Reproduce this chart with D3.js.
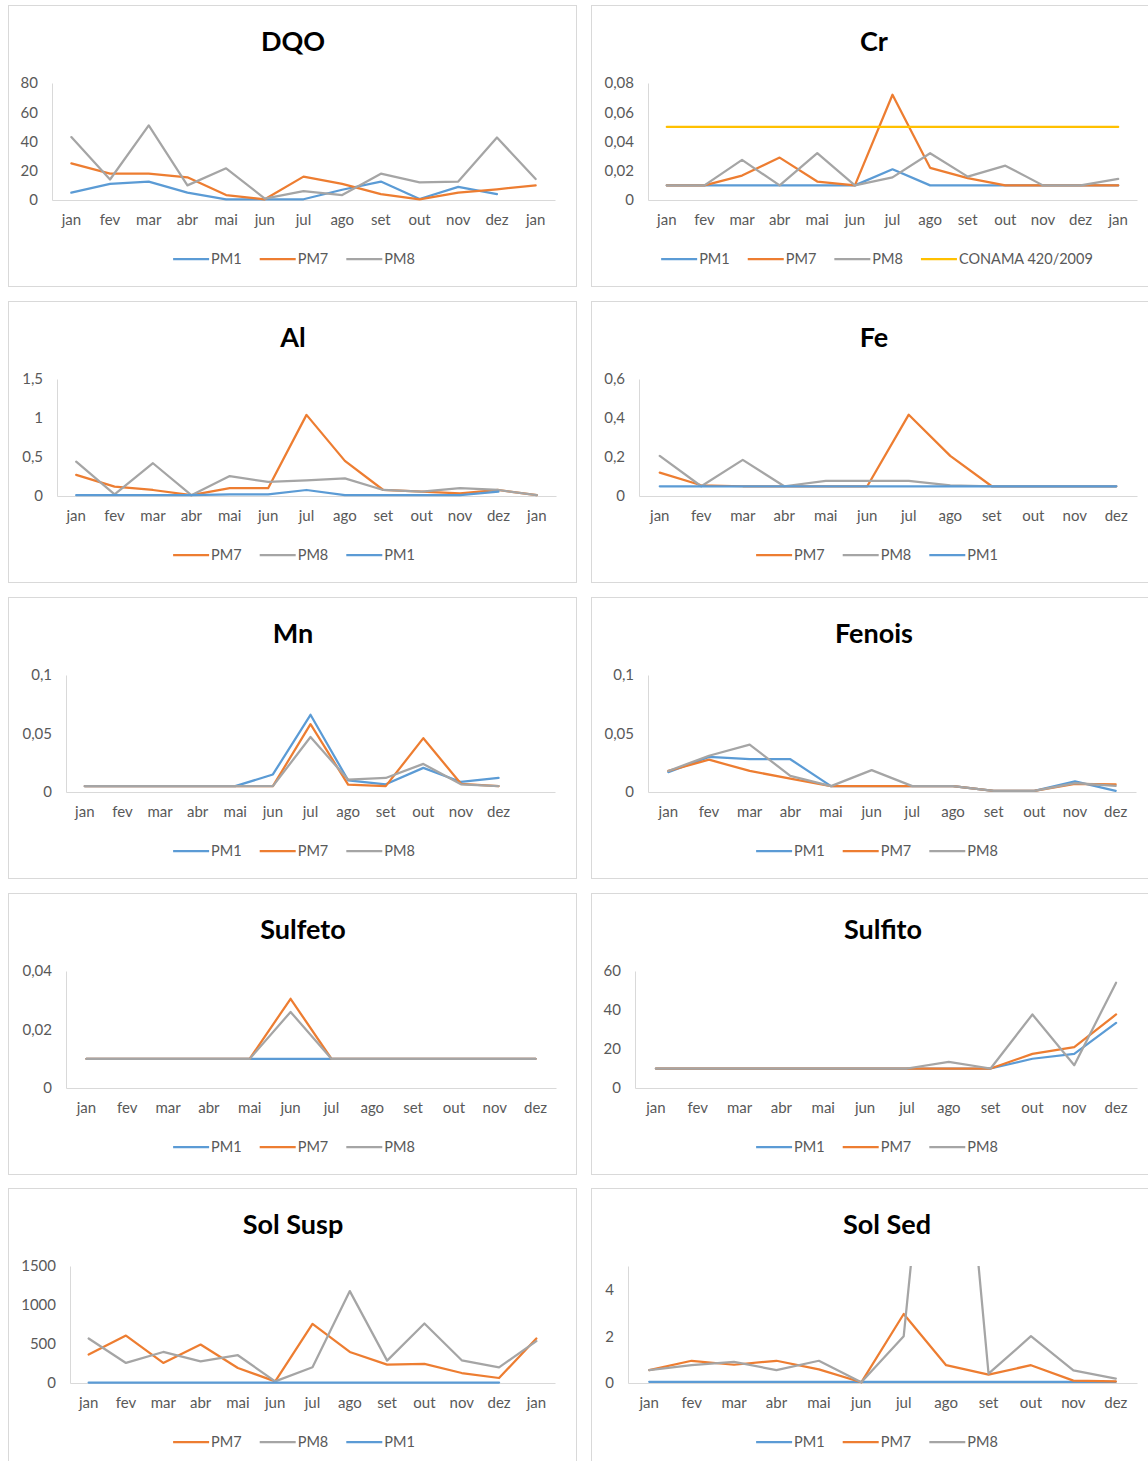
<!DOCTYPE html>
<html lang="pt">
<head>
<meta charset="UTF-8">
<title>Monitoramento PM1 / PM7 / PM8</title>
<script src="https://d3js.org/d3.v7.min.js"></script>
<style>
  body { margin: 0; background: #fff; }
  svg { display: block; font-family: Lato, "Open Sans", sans-serif; }
  .tick text { fill: #595959; font-size: 15px; }
  .title { font-size: 27px; font-weight: bold; fill: #000; }
  .leg { font-size: 14.5px; fill: #595959; }
</style>
</head>
<body>
<svg id="chart" width="1148" height="1461"></svg>
<script>
// month labels
var months13 = ["jan","fev","mar","abr","mai","jun","jul","ago","set","out","nov","dez","jan"];
var months12 = ["jan","fev","mar","abr","mai","jun","jul","ago","set","out","nov","dez"];
var monthsMn = ["jan","fev","mar","abr","mai","jun","jul","ago","set","out","nov","dez",""];

// DQO
var dqoPM1 = [5, 11, 12.6, 5, 0.5, 0.5, 0.5, 7, 12.6, 0.7, 9, 4, null];
var dqoPM7 = [25, 18, 18, 15.5, 3.4, 0.5, 16, 11, 4, 0.5, 5, 7.3, 10];
var dqoPM8 = [43, 14, 51, 10, 21.7, 1, 6, 3.4, 18, 12, 12.6, 42.7, 14.4];
var dqoTicks = [0, 20, 40, 60, 80];

// Cr
var crPM1 = [0.01, 0.01, 0.01, 0.01, 0.01, 0.01, 0.021, 0.01, 0.01, 0.01, 0.01, 0.01, 0.01];
var crPM7 = [0.01, 0.01, 0.0167, 0.029, 0.0126, 0.01, 0.072, 0.022, 0.015, 0.01, 0.01, 0.01, 0.01];
var crPM8 = [0.01, 0.01, 0.0274, 0.01, 0.032, 0.01, 0.0155, 0.032, 0.016, 0.0235, 0.01, 0.01, 0.0144];
var crConama = [0.05, 0.05, 0.05, 0.05, 0.05, 0.05, 0.05, 0.05, 0.05, 0.05, 0.05, 0.05, 0.05];
var crTicks = [0, 0.02, 0.04, 0.06, 0.08];

// Al
var alPM7 = [0.27, 0.12, 0.077, 0.01, 0.1, 0.1, 1.04, 0.45, 0.077, 0.055, 0.035, 0.077, 0.01];
var alPM8 = [0.44, 0.02, 0.42, 0.01, 0.255, 0.18, 0.2, 0.225, 0.077, 0.055, 0.1, 0.077, 0.01];
var alPM1 = [0.01, 0.01, 0.01, 0.01, 0.02, 0.02, 0.077, 0.01, 0.01, 0.01, 0.01, 0.055, null];
var alTicks = [0, 0.5, 1, 1.5];

// Fe
var fePM7 = [0.12, 0.055, 0.05, 0.05, 0.05, 0.05, 0.417, 0.206, 0.05, 0.05, 0.05, 0.05];
var fePM8 = [0.206, 0.05, 0.185, 0.05, 0.077, 0.077, 0.077, 0.055, 0.05, 0.05, 0.05, 0.05];
var fePM1 = [0.05, 0.05, 0.05, 0.05, 0.05, 0.05, 0.05, 0.05, 0.05, 0.05, 0.05, 0.05];
var feTicks = [0, 0.2, 0.4, 0.6];

// Mn
var mnPM1 = [0.005, 0.005, 0.005, 0.005, 0.005, 0.015, 0.066, 0.01, 0.0066, 0.0206, 0.0086, 0.012];
var mnPM7 = [0.005, 0.005, 0.005, 0.005, 0.005, 0.005, 0.058, 0.0063, 0.005, 0.046, 0.007, 0.005];
var mnPM8 = [0.005, 0.005, 0.005, 0.005, 0.005, 0.005, 0.047, 0.0106, 0.012, 0.024, 0.0066, 0.005];
var mnTicks = [0, 0.05, 0.1];

// Fenois
var fenPM1 = [0.017, 0.03, 0.028, 0.028, 0.005, 0.005, 0.005, 0.005, 0.001, 0.001, 0.009, 0.001];
var fenPM7 = [0.018, 0.0276, 0.018, 0.0115, 0.005, 0.005, 0.005, 0.005, 0.001, 0.001, 0.007, 0.0066];
var fenPM8 = [0.018, 0.031, 0.0405, 0.0138, 0.005, 0.0187, 0.005, 0.005, 0.001, 0.001, 0.0075, 0.0052];
var fenTicks = [0, 0.05, 0.1];

// Sulfeto
var sfePM1 = [0.01, 0.01, 0.01, 0.01, 0.01, 0.01, 0.01, 0.01, 0.01, 0.01, 0.01, 0.01];
var sfePM7 = [0.01, 0.01, 0.01, 0.01, 0.01, 0.0305, 0.01, 0.01, 0.01, 0.01, 0.01, 0.01];
var sfePM8 = [0.01, 0.01, 0.01, 0.01, 0.01, 0.026, 0.01, 0.01, 0.01, 0.01, 0.01, 0.01];
var sfeTicks = [0, 0.02, 0.04];

// Sulfito
var sfiPM1 = [10, 10, 10, 10, 10, 10, 10, 10, 10, 15, 17.5, 33.4];
var sfiPM7 = [10, 10, 10, 10, 10, 10, 10, 10, 10, 17.5, 21, 37.7];
var sfiPM8 = [10, 10, 10, 10, 10, 10, 10, 13.4, 10, 37.7, 11.7, 54];
var sfiTicks = [0, 20, 40, 60];

// Sol Susp
var ssPM7 = [364, 608, 257, 493, 193, 21, 758, 398, 236, 244, 128, 64, 570];
var ssPM8 = [570, 257, 398, 278, 356, 21, 201, 1178, 287, 763, 291, 201, 536];
var ssPM1 = [5, 5, 5, 5, 5, 5, 5, 5, 5, 5, 5, 5, null];
var ssTicks = [0, 500, 1000, 1500];

// Sol Sed (PM8 in ago goes off the top of the axis)
var sdPM1 = [0.05, 0.05, 0.05, 0.05, 0.05, 0.05, 0.05, 0.05, 0.05, 0.05, 0.05, 0.05];
var sdPM7 = [0.55, 0.95, 0.78, 0.95, 0.58, 0.03, 2.95, 0.76, 0.36, 0.76, 0.1, 0.07];
var sdPM8 = [0.55, 0.76, 0.9, 0.55, 0.95, 0.03, 2, 20, 0.4, 2, 0.54, 0.19];
var sdTicks = [0, 2, 4];

var BLUE = "#5B9BD5", ORANGE = "#ED7D31", GRAY = "#A5A5A5", YELLOW = "#FFC000";

var svg = d3.select("#chart");
var rowTops = [5, 301, 597, 893, 1188];

function fmt(v) { return String(v).replace(".", ","); }

function s(name, values, color) { return { name: name, values: values, color: color }; }

var panels = [
  { title: "DQO", col: 0, row: 0, tx: 293, x0: 52, x1: 555, labels: months13, max: 80, ticks: dqoTicks,
    series: [s("PM1", dqoPM1, BLUE), s("PM7", dqoPM7, ORANGE), s("PM8", dqoPM8, GRAY)] },
  { title: "Cr", col: 1, row: 0, tx: 874, x0: 648, x1: 1137, labels: months13, max: 0.08, ticks: crTicks,
    series: [s("PM1", crPM1, BLUE), s("PM7", crPM7, ORANGE), s("PM8", crPM8, GRAY), s("CONAMA 420/2009", crConama, YELLOW)] },
  { title: "Al", col: 0, row: 1, tx: 293, x0: 57, x1: 556, labels: months13, max: 1.5, ticks: alTicks,
    series: [s("PM7", alPM7, ORANGE), s("PM8", alPM8, GRAY), s("PM1", alPM1, BLUE)] },
  { title: "Fe", col: 1, row: 1, tx: 874, x0: 639, x1: 1137, labels: months12, max: 0.6, ticks: feTicks,
    series: [s("PM7", fePM7, ORANGE), s("PM8", fePM8, GRAY), s("PM1", fePM1, BLUE)] },
  { title: "Mn", col: 0, row: 2, tx: 293, x0: 66, x1: 555, labels: monthsMn, max: 0.1, ticks: mnTicks,
    series: [s("PM1", mnPM1, BLUE), s("PM7", mnPM7, ORANGE), s("PM8", mnPM8, GRAY)] },
  { title: "Fenois", col: 1, row: 2, tx: 874, x0: 648, x1: 1136, labels: months12, max: 0.1, ticks: fenTicks,
    series: [s("PM1", fenPM1, BLUE), s("PM7", fenPM7, ORANGE), s("PM8", fenPM8, GRAY)] },
  { title: "Sulfeto", col: 0, row: 3, tx: 303, x0: 66, x1: 556, labels: months12, max: 0.04, ticks: sfeTicks,
    series: [s("PM1", sfePM1, BLUE), s("PM7", sfePM7, ORANGE), s("PM8", sfePM8, GRAY)] },
  { title: "Sulfito", col: 1, row: 3, tx: 883, x0: 635, x1: 1137, labels: months12, max: 60, ticks: sfiTicks,
    series: [s("PM1", sfiPM1, BLUE), s("PM7", sfiPM7, ORANGE), s("PM8", sfiPM8, GRAY)] },
  { title: "Sol Susp", col: 0, row: 4, tx: 293, x0: 70, x1: 555, labels: months13, max: 1500, ticks: ssTicks,
    series: [s("PM7", ssPM7, ORANGE), s("PM8", ssPM8, GRAY), s("PM1", ssPM1, BLUE)] },
  { title: "Sol Sed", col: 1, row: 4, tx: 887, x0: 628, x1: 1137, labels: months12, max: 5, ticks: sdTicks,
    series: [s("PM1", sdPM1, BLUE), s("PM7", sdPM7, ORANGE), s("PM8", sdPM8, GRAY)] }
];

panels.forEach(function(p, pi) {
  var top = rowTops[p.row];
  var bx = p.col === 0 ? 8 : 591;
  var bw = p.col === 0 ? 568 : 620;
  var g = svg.append("g");

  // panel frame
  g.append("rect").attr("x", bx + 0.5).attr("y", top + 0.5).attr("width", bw).attr("height", 281)
    .attr("fill", "#fff").attr("stroke", "#D9D9D9");

  g.append("text").attr("class", "title").attr("x", p.tx).attr("y", top + 46)
    .attr("text-anchor", "middle").text(p.title);

  var yTop = top + 78, yBot = top + 195;
  var x = d3.scaleBand().domain(d3.range(p.labels.length)).range([p.x0, p.x1]);
  var y = d3.scaleLinear().domain([0, p.max]).range([yBot, yTop]);

  var xAxis = g.append("g").attr("transform", "translate(0," + yBot + ")")
    .call(d3.axisBottom(x).tickSize(0).tickPadding(14).tickFormat(function(i) { return p.labels[i]; }));
  xAxis.select(".domain").attr("stroke", "#D9D9D9");

  var yAxis = g.append("g").attr("transform", "translate(" + p.x0 + ",0)")
    .call(d3.axisLeft(y).tickValues(p.ticks).tickSize(0).tickPadding(14).tickFormat(fmt));
  yAxis.select(".domain").attr("stroke", "#D9D9D9");
  xAxis.attr("font-family", null).attr("font-size", null);
  yAxis.attr("font-family", null).attr("font-size", null);

  var clipId = "clip" + pi;
  svg.append("clipPath").attr("id", clipId).append("rect")
    .attr("x", p.x0).attr("y", yTop).attr("width", p.x1 - p.x0).attr("height", yBot - yTop + 3);

  var line = d3.line()
    .defined(function(d) { return d !== null; })
    .x(function(d, i) { return x(i) + x.bandwidth() / 2; })
    .y(function(d) { return y(d); });

  var lines = g.append("g").attr("clip-path", "url(#" + clipId + ")");
  p.series.forEach(function(se) {
    lines.append("path").datum(se.values).attr("d", line)
      .attr("fill", "none").attr("stroke", se.color).attr("stroke-width", 2.25)
      .attr("stroke-linejoin", "round").attr("stroke-linecap", "round");
  });

  // legend, centred under the plot
  var lg = g.append("g");
  var cx = 0, ly = top + 254;
  p.series.forEach(function(se) {
    lg.append("line").attr("x1", cx).attr("x2", cx + 36).attr("y1", ly).attr("y2", ly)
      .attr("stroke", se.color).attr("stroke-width", 2.25);
    var t = lg.append("text").attr("class", "leg").attr("x", cx + 38).attr("y", ly + 5).text(se.name);
    cx += 38 + t.node().getComputedTextLength() + 18;
  });
  var lw = cx - 18;
  var lcx = p.col === 0 ? 294 : 877;
  lg.attr("transform", "translate(" + (lcx - lw / 2) + ",0)");
});
</script>
</body>
</html>
